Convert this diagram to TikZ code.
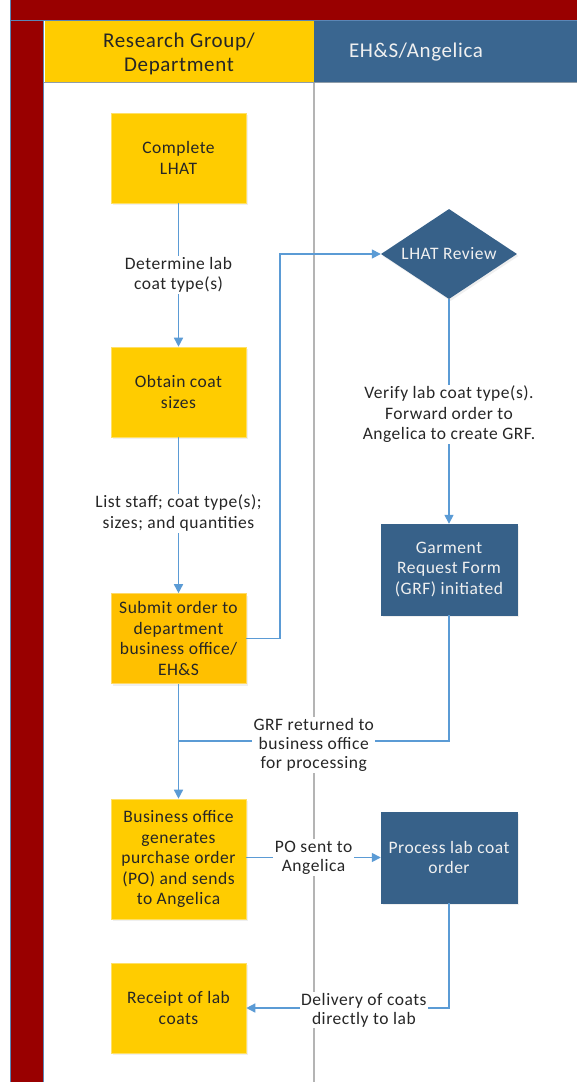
\documentclass[tikz,border=0pt]{standalone}
\usepackage{fontspec}
\setmainfont{Carlito}[LetterSpace=3]
\usetikzlibrary{shapes.geometric,arrows.meta,shadows}
\definecolor{darkred}{HTML}{990000}
\definecolor{laneyellow}{HTML}{FFCC00}
\definecolor{boxorange}{HTML}{FFC000}
\definecolor{laneblue}{HTML}{3A6690}
\definecolor{boxblue}{HTML}{376189}
\definecolor{connblue}{HTML}{5B9BD5}
\definecolor{edgeblue}{HTML}{5B86B5}
\definecolor{sepgray}{HTML}{B4B4B4}
\definecolor{txt}{HTML}{262626}
\definecolor{wtxt}{HTML}{F0F0F0}
\tikzset{
  x=1pt, y=-1pt,
  base/.style={align=center, font=\fontsize{17.5}{20.5}\selectfont, inner sep=0pt,
    minimum width=135pt, minimum height=90pt,
    drop shadow={opacity=0.12, shadow xshift=1.5pt, shadow yshift=-2pt}},
  ybox/.style={base, rectangle, fill=laneyellow, draw=laneyellow!60!white, line width=0.6pt, text=txt},
  obox/.style={base, rectangle, fill=boxorange, draw=boxorange!60!white, line width=0.6pt, text=txt},
  bbox/.style={base, rectangle, fill=boxblue, draw=boxblue, text=wtxt},
  dbox/.style={base, diamond, aspect=1.51, fill=boxblue, text=wtxt, minimum width=136pt, minimum height=90pt},
  lbl/.style={fill=white, align=center, text=txt, inner sep=1.5pt, font=\fontsize{17.5}{20.5}\selectfont},
  slbl/.style={lbl, font=\fontsize{17.5}{19}\selectfont},
  conn/.style={draw=connblue, line width=1.5pt, -{Triangle[length=9pt,width=9pt]}},
  plain/.style={draw=connblue, line width=1.5pt},
  hdr/.style={align=center, font=\fontsize{21}{24}\selectfont}
}
\begin{document}
\begin{tikzpicture}
\useasboundingbox (0,0) rectangle (577,1082);
% frame
\fill[white] (0,0) rectangle (577,1082);
\fill[darkred] (10,0) rectangle (577,21);
\fill[darkred] (10,21) rectangle (44,1082);
\draw[edgeblue, line width=1.2pt] (10.5,0) -- (10.5,1082);
\draw[edgeblue, line width=1.2pt] (43.5,21) -- (43.5,1082);
\draw[edgeblue, line width=1.2pt] (10,20.5) -- (577,20.5);
% headers
\fill[laneyellow] (44.5,21) rectangle (314,82);
\fill[laneblue] (314,21) rectangle (577,82);
\draw[sepgray!70!laneblue, line width=1pt] (44,82.5) -- (577,82.5);
\node[hdr, text=txt] (h1) at (179,54) {Research Group/\\Department};
\node[hdr, text=wtxt] (h2) at (416,52) {EH\&S/Angelica};
\draw[sepgray, line width=2pt] (314,83) -- (314,1082);
% nodes
\node[ybox] (complete) at (178.5,158) {Complete\\LHAT};
\node[ybox] (obtain) at (178.5,392) {Obtain coat\\sizes};
\node[obox] (submit) at (178.5,638.5) {Submit order to\\department\\business office/\\EH\&S};
\node[ybox, minimum height=120pt] (bizoff) at (178.5,859) {Business office\\generates\\purchase order\\(PO) and sends\\to Angelica};
\node[ybox] (receipt) at (178.5,1008) {Receipt of lab\\coats};
\node[dbox] (lhat) at (449,254) {LHAT Review};
\node[bbox, minimum width=136pt, minimum height=91pt] (grf) at (449,569.5) {Garment\\Request Form\\(GRF) initiated};
\node[bbox, minimum width=136pt, minimum height=91pt] (process) at (449,857.5) {Process lab coat\\order};
% coordinates
\coordinate (jA) at (280,638.5);
\coordinate (jB) at (178.5,741);
% connectors
\draw[conn] (complete) -- node[lbl] (l1) {Determine lab\\coat type(s)} (obtain);
\draw[conn] (obtain) -- node[lbl, yshift=2pt] (l2) {List staff; coat type(s);\\sizes; and quantities} (submit);
\draw[conn] (submit.east) -- (jA) |- (lhat.west);
\draw[conn] (lhat.south) -- node[lbl, yshift=-3pt] (l3) {Verify lab coat type(s).\\Forward order to\\Angelica to create GRF.} (grf.north);
\draw[plain] (grf.south) |- node[slbl, pos=0.75, yshift=-4pt] (l4) {GRF returned to\\business office\\for processing} (jB);
\draw[conn] (submit.south) -- (bizoff.north);
\draw[conn] (bizoff.east |- process.west) -- node[slbl] (l5) {PO sent to\\Angelica} (process.west);
\draw[conn] (process.south) |- node[slbl, pos=0.71, yshift=-2pt] (l6) {Delivery of coats\\directly to lab} (receipt.east);
\end{tikzpicture}
\end{document}
